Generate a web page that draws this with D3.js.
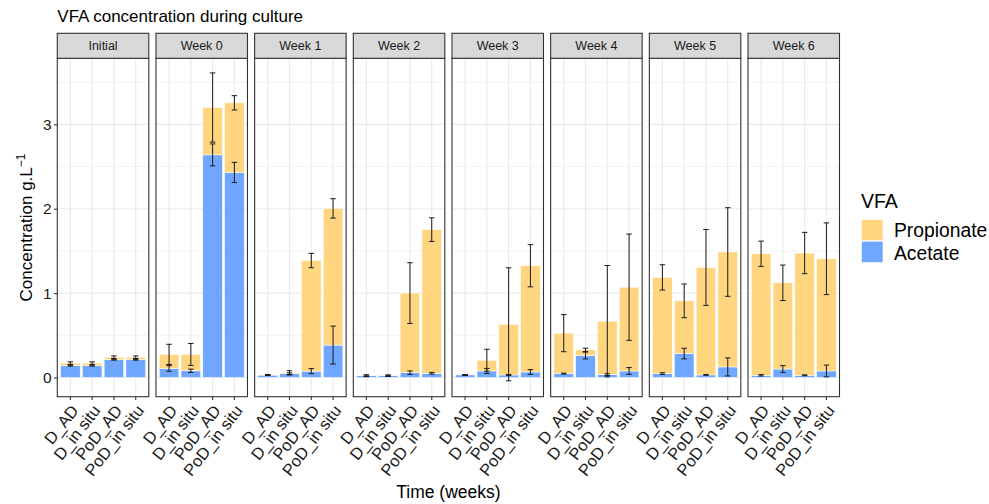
<!DOCTYPE html>
<html>
<head>
<meta charset="utf-8">
<script src="https://cdn.jsdelivr.net/npm/d3@7"></script>
<style>
  body { margin: 0; background: #fff; }
  svg { display: block; font-family: "Liberation Sans", Arial, sans-serif; }
</style>
</head>
<body>
<svg id="chart" width="989" height="504"></svg>
<script>
// Facets (sampling time) and treatments on the x axis of each facet
const weeks = ["Initial", "Week 0", "Week 1", "Week 2", "Week 3", "Week 4", "Week 5", "Week 6"];
const treatments = ["D_AD", "D_in situ", "PoD_AD", "PoD_in situ"];

// Mean concentrations (g/L), one row per facet, one value per treatment
const acetate = [
  [0.14, 0.14, 0.21, 0.21],
  [0.107, 0.079, 2.638, 2.43],
  [0.028, 0.044, 0.075, 0.384],
  [0.02, 0.02, 0.057, 0.05],
  [0.03, 0.077, 0.03, 0.065],
  [0.046, 0.26, 0.034, 0.077],
  [0.046, 0.283, 0.03, 0.125],
  [0.026, 0.10, 0.026, 0.077]
];
const propionate = [
  [0.03, 0.03, 0.03, 0.03],
  [0.166, 0.194, 0.562, 0.825],
  [0.002, 0.011, 1.311, 1.62],
  [0.0, 0.0, 0.943, 1.702],
  [0.0, 0.127, 0.60, 1.259],
  [0.479, 0.067, 0.633, 0.993],
  [1.14, 0.625, 1.274, 1.362],
  [1.44, 1.022, 1.449, 1.33]
];
// Standard deviations: acetate alone, and total (acetate + propionate)
const acetateSd = [
  [0.005, 0.005, 0.005, 0.005],
  [0.033, 0.02, 0.13, 0.12],
  [0.005, 0.01, 0.03, 0.225],
  [0.01, 0.008, 0.02, 0.01],
  [0.005, 0.03, 0.005, 0.028],
  [0.005, 0.04, 0.01, 0.04],
  [0.01, 0.063, 0.005, 0.107],
  [0.008, 0.04, 0.005, 0.07]
];
const totalSd = [
  [0.015, 0.015, 0.015, 0.015],
  [0.12, 0.13, 0.41, 0.085],
  [0.005, 0.025, 0.085, 0.115],
  [0.01, 0.008, 0.36, 0.14],
  [0.005, 0.13, 0.67, 0.25],
  [0.22, 0.02, 0.66, 0.63],
  [0.15, 0.2, 0.45, 0.525],
  [0.15, 0.21, 0.245, 0.425]
];

const yTicks = [0, 1, 2, 3];
const yMinor = [0.5, 1.5, 2.5, 3.5];
const legendLabels = ["Propionate", "Acetate"];
const colors = { Propionate: "#FFD580", Acetate: "#6FA6FF" };

const svg = d3.select("#chart");
const panelTop = 58.3, panelBottom = 396.7, stripTop = 33.3;
const left = 57.3, right = 839.5;

const fx = d3.scaleBand().domain(weeks).range([left, right]).paddingInner(0.0727);
const x = d3.scaleBand().domain(treatments).range([0, fx.bandwidth()])
  .paddingInner(0.1).paddingOuter(0.15);
const y = d3.scaleLinear().domain([-0.228, 3.783]).range([panelBottom, panelTop]);

// Title
svg.append("text").attr("x", left).attr("y", 22)
  .attr("font-size", 17).attr("fill", "#000")
  .text("VFA concentration during culture");

weeks.forEach((wk, wi) => {
  const g = svg.append("g").attr("transform", `translate(${fx(wk)},0)`);
  const w = fx.bandwidth();

  // Grid lines
  g.selectAll(".minor").data(yMinor).join("line")
    .attr("x1", 0).attr("x2", w).attr("y1", d => y(d)).attr("y2", d => y(d))
    .attr("stroke", "#EBEBEB").attr("stroke-width", 0.6);
  g.selectAll(".major").data(yTicks).join("line")
    .attr("x1", 0).attr("x2", w).attr("y1", d => y(d)).attr("y2", d => y(d))
    .attr("stroke", "#EBEBEB").attr("stroke-width", 1.2);
  g.selectAll(".vmajor").data(treatments).join("line")
    .attr("x1", d => x(d) + x.bandwidth() / 2).attr("x2", d => x(d) + x.bandwidth() / 2)
    .attr("y1", panelTop).attr("y2", panelBottom)
    .attr("stroke", "#EBEBEB").attr("stroke-width", 1.2);

  const rows = treatments.map((t, ti) => ({
    t, ac: acetate[wi][ti], pr: propionate[wi][ti],
    acSd: acetateSd[wi][ti], totSd: totalSd[wi][ti]
  }));

  // Stacked bars: acetate at the bottom, propionate on top
  g.selectAll(".ac").data(rows).join("rect")
    .attr("x", d => x(d.t)).attr("width", x.bandwidth())
    .attr("y", d => y(d.ac)).attr("height", d => y(0) - y(d.ac))
    .attr("fill", colors.Acetate).attr("stroke", "#fff").attr("stroke-width", 0.5);
  g.selectAll(".pr").data(rows).join("rect")
    .attr("x", d => x(d.t)).attr("width", x.bandwidth())
    .attr("y", d => y(d.ac + d.pr)).attr("height", d => y(d.ac) - y(d.ac + d.pr))
    .attr("fill", colors.Propionate).attr("stroke", "#fff").attr("stroke-width", 0.5);

  // Error bars
  const cap = x.step() * 0.125;
  const errs = [];
  rows.forEach(d => {
    errs.push({ t: d.t, m: d.ac + d.pr, s: d.totSd });
    errs.push({ t: d.t, m: d.ac, s: d.acSd });
  });
  const eg = g.selectAll(".err").data(errs).join("g")
    .attr("transform", d => `translate(${x(d.t) + x.bandwidth() / 2},0)`)
    .attr("stroke", "#1a1a1a").attr("stroke-width", 1).attr("fill", "none");
  eg.append("line").attr("y1", d => y(d.m - d.s)).attr("y2", d => y(d.m + d.s));
  eg.append("line").attr("x1", -cap).attr("x2", cap)
    .attr("y1", d => y(d.m + d.s)).attr("y2", d => y(d.m + d.s));
  eg.append("line").attr("x1", -cap).attr("x2", cap)
    .attr("y1", d => y(d.m - d.s)).attr("y2", d => y(d.m - d.s));

  // Panel border
  g.append("rect").attr("x", 0).attr("y", panelTop).attr("width", w)
    .attr("height", panelBottom - panelTop)
    .attr("fill", "none").attr("stroke", "#333").attr("stroke-width", 1.1);

  // Strip
  g.append("rect").attr("x", 0).attr("y", stripTop).attr("width", w)
    .attr("height", panelTop - stripTop)
    .attr("fill", "#D9D9D9").attr("stroke", "#333").attr("stroke-width", 1.1);
  g.append("text").attr("x", w / 2).attr("y", (stripTop + panelTop) / 2)
    .attr("dy", "0.35em").attr("text-anchor", "middle")
    .attr("font-size", 12.5).attr("fill", "#1a1a1a").text(wk);

  // X axis ticks and rotated labels
  const xAxis = d3.axisBottom(x).tickSize(3.3).tickPadding(0);
  const ax = g.append("g").attr("transform", `translate(0,${panelBottom})`).call(xAxis);
  ax.select(".domain").remove();
  ax.selectAll(".tick line").attr("stroke", "#333").attr("stroke-width", 1.1);
  ax.selectAll(".tick text")
    .attr("font-size", 16.5).attr("fill", "#1a1a1a")
    .attr("font-family", "Liberation Sans, Arial, sans-serif")
    .attr("text-anchor", "end")
    .attr("y", 0).attr("dy", 0)
    .attr("transform", "translate(0,7) rotate(-52) translate(0,11.5)");
});

// Y axis
const yAxis = d3.axisLeft(y).tickValues(yTicks).tickFormat(d3.format("d"))
  .tickSize(3.3).tickPadding(2.5);
const ya = svg.append("g").attr("transform", `translate(${left},0)`).call(yAxis);
ya.select(".domain").remove();
ya.selectAll(".tick line").attr("stroke", "#333").attr("stroke-width", 1.1);
ya.selectAll(".tick text").attr("font-size", 15.5).attr("fill", "#1a1a1a")
  .attr("font-family", "Liberation Sans, Arial, sans-serif");

// Axis titles
const yt = svg.append("text")
  .attr("transform", `translate(32,${(panelTop + panelBottom) / 2}) rotate(-90)`)
  .attr("text-anchor", "middle").attr("font-size", 17).attr("fill", "#000");
yt.append("tspan").text("Concentration g.L");
yt.append("tspan").attr("font-size", 12).attr("baseline-shift", "55%").text("\u22121");

svg.append("text").attr("x", (left + right) / 2).attr("y", 498)
  .attr("text-anchor", "middle").attr("font-size", 17.5).attr("fill", "#000")
  .text("Time (weeks)");

// Legend
const lg = svg.append("g").attr("transform", "translate(861,0)");
lg.append("text").attr("x", 0).attr("y", 208).attr("font-size", 19.5).text("VFA");
legendLabels.forEach((lab, i) => {
  lg.append("rect").attr("x", 0.5).attr("y", 219.5 + i * 21.7)
    .attr("width", 21.5).attr("height", 21.2)
    .attr("fill", colors[lab]).attr("stroke", "#fff").attr("stroke-width", 0.6);
  lg.append("text").attr("x", 33).attr("y", 237 + i * 22.5)
    .attr("font-size", 19.3).attr("fill", "#000").text(lab);
});
</script>
</body>
</html>
